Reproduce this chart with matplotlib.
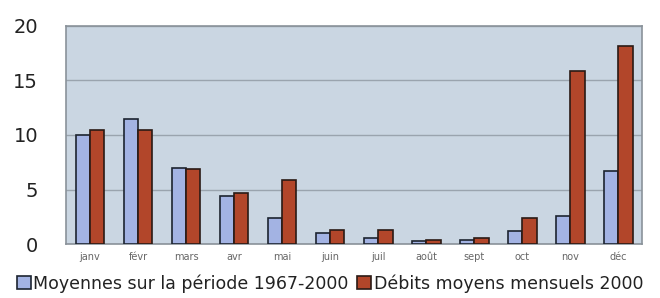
import numpy as np
import matplotlib
matplotlib.use("Agg")
import matplotlib.pyplot as plt

mois = ["janv", "févr", "mars", "avr", "mai", "juin", "juil", "août", "sept", "oct", "nov", "déc"]
moyennes = [10.0, 11.5, 7.0, 4.4, 2.4, 1.0, 0.6, 0.3, 0.4, 1.2, 2.6, 6.7]
debits_2000 = [10.5, 10.5, 6.9, 4.7, 5.9, 1.3, 1.3, 0.4, 0.6, 2.4, 15.9, 18.2]

fig = plt.figure(figsize=(6.6, 2.98), dpi=100)
fig.patch.set_facecolor("white")
ax = fig.add_axes([0.1, 0.181, 0.873, 0.732])
ax.set_facecolor("#cad6e2")

x = np.arange(len(mois))
w = 0.3
ax.bar(x - w / 2, moyennes, w, color="#a3b3e3", edgecolor="#1c2430", linewidth=1.2,
       label="Moyennes sur la période 1967-2000", zorder=3)
ax.bar(x + w / 2, debits_2000, w, color="#b2462a", edgecolor="#2a1a15", linewidth=1.2,
       label="Débits moyens mensuels 2000", zorder=3)

ax.set_xlim(-0.5, len(mois) - 0.5)
ax.set_ylim(0, 20)
ax.set_yticks([0, 5, 10, 15, 20])
ax.set_xticks(x)
ax.set_xticklabels(mois, fontsize=7, color="#666666")
ax.tick_params(axis="y", labelsize=14, length=0, pad=20, colors="#222222")
ax.tick_params(axis="x", length=0, pad=6)
ax.grid(axis="y", color="#9aa4ae", linewidth=1, zorder=0)
for s in ax.spines.values():
    s.set_color("#8a929a")
    s.set_linewidth(1.2)

fig.legend(loc="lower center", bbox_to_anchor=(0.5, -0.035), ncol=2, frameon=False,
           fontsize=12.5, handlelength=0.8, handleheight=0.8, handletextpad=0.15,
           columnspacing=0.5, labelcolor="#222222")

fig.savefig("out.png", dpi=100)
